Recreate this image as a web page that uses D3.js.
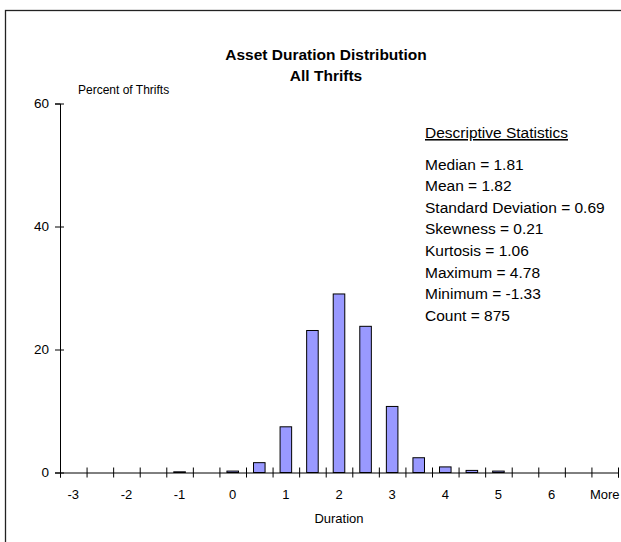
<!DOCTYPE html>
<html>
<head>
<meta charset="utf-8">
<script src="https://cdn.jsdelivr.net/npm/d3@7"></script>
<style>
  html, body { margin: 0; padding: 0; background: #fff; }
  svg { display: block; font-family: "Liberation Sans", Arial, sans-serif; }
</style>
</head>
<body>
<svg id="chart" width="621" height="542"></svg>
<script>
// ---- data ----
const categories = ["-3","-2.5","-2","-1.5","-1","-0.5","0","0.5","1","1.5","2","2.5","3","3.5","4","4.5","5","5.5","6","6.5","More"];
const percentOfThrifts = [0,0,0,0,0.11,0,0.23,1.6,7.43,23.09,29.03,23.77,10.74,2.4,0.91,0.34,0.23,0,0,0,0];
const yTicks = [0,20,40,60];
const titleLines = ["Asset Duration Distribution","All Thrifts"];
const statsTitle = "Descriptive Statistics";
const statsLines = ["Median = 1.81","Mean = 1.82","Standard Deviation = 0.69","Skewness = 0.21","Kurtosis = 1.06","Maximum = 4.78","Minimum = -1.33","Count = 875"];

const svg = d3.select("#chart");

// frame
svg.append("rect").attr("x",5.5).attr("y",10.5).attr("width",700).attr("height",600)
  .attr("fill","none").attr("stroke","#222").attr("stroke-width",1.3);

const x0 = 60, x1 = 618, yBase = 472.5, yTop = 103.5;
const x = d3.scaleBand().domain(categories).range([x0,x1]).paddingInner(0.565).paddingOuter(0.2825);
const y = d3.scaleLinear().domain([0,60]).range([yBase,yTop]);

// bars
svg.append("g").selectAll("rect").data(categories).join("rect")
  .attr("x",(d)=>x(d))
  .attr("y",(d,i)=>y(percentOfThrifts[i]))
  .attr("width",x.bandwidth())
  .attr("height",(d,i)=>yBase - y(percentOfThrifts[i]))
  .attr("fill","#9999ff").attr("stroke","#000").attr("stroke-width",1);

// x axis: boundary ticks via index scale
const xi = d3.scaleLinear().domain([0,categories.length]).range([x0,x1]);
const gxTicks = svg.append("g").attr("transform",`translate(0,${yBase})`)
  .call(d3.axisBottom(xi).tickValues(d3.range(categories.length+1)).tickSize(5).tickFormat(""));
gxTicks.select(".domain").attr("stroke","#000");
gxTicks.selectAll(".tick line").attr("y1",-5).attr("stroke","#000");

// x labels
const gxLab = svg.append("g").attr("transform",`translate(0,${yBase})`)
  .call(d3.axisBottom(x).tickSize(0).tickPadding(17).tickFormat((d,i)=> i%2===0 ? d : ""));
gxLab.select(".domain").remove();
gxLab.selectAll("text").attr("font-size",13).attr("font-family","Liberation Sans, Arial, sans-serif").attr("fill","#000");

// y axis
const gy = svg.append("g").attr("transform",`translate(${x0},0)`)
  .call(d3.axisLeft(y).tickValues(yTicks).tickSize(5).tickPadding(6));
gy.select(".domain").attr("stroke","#000");
gy.selectAll(".tick line").attr("x1",4).attr("stroke","#000");
gy.selectAll("text").attr("font-size",13.5).attr("font-family","Liberation Sans, Arial, sans-serif").attr("fill","#000");

// titles
svg.append("g").selectAll("text").data(titleLines).join("text")
  .attr("x",326).attr("y",(d,i)=>60 + i*21)
  .attr("text-anchor","middle").attr("font-size",15.5).attr("font-weight","bold").text(d=>d);

svg.append("text").attr("x",78).attr("y",94).attr("font-size",12).text("Percent of Thrifts");
svg.append("text").attr("x",339).attr("y",523).attr("text-anchor","middle").attr("font-size",13).text("Duration");

// stats
svg.append("text").attr("x",425).attr("y",138).attr("font-size",15.5)
  .attr("text-decoration","underline").text(statsTitle);
svg.append("g").selectAll("text").data(statsLines).join("text")
  .attr("x",425).attr("y",(d,i)=>169.5 + i*21.6).attr("font-size",15.5).text(d=>d);
</script>
</body>
</html>
